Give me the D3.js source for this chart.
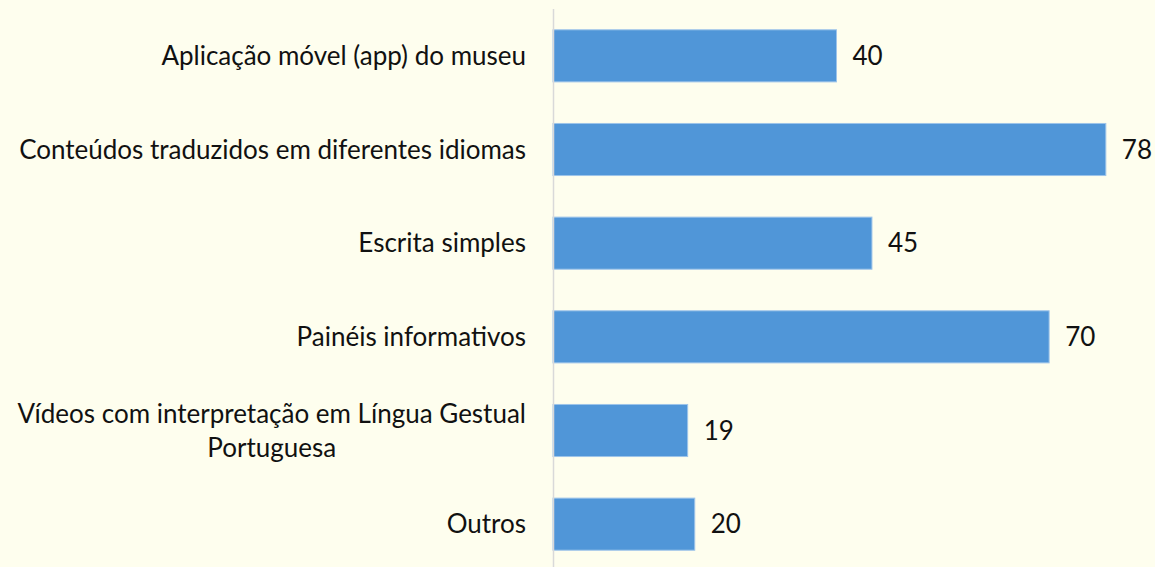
<!DOCTYPE html>
<html>
<head>
    <script src="https://d3js.org/d3.v7.min.js"></script>
    <style>
        body {
            margin: 0;
            background: #fefeee;
            font-family: 'Lato';
        }

        .bar {
            fill: #5096d8;
            stroke: #9ec4ea;
            stroke-width: 1px;
        }

        text {
            fill: #111;
            font-size: 26px;
        }
    </style>
</head>

<body>
    <script>
        const categories = [
            'Aplicação móvel (app) do museu',
            'Conteúdos traduzidos em diferentes idiomas',
            'Escrita simples',
            'Painéis informativos',
            'Vídeos com interpretação em Língua Gestual Portuguesa',
            'Outros'
        ];
        // wrapped lines of each category label
        const labelLines = [
            ['Aplicação móvel (app) do museu'],
            ['Conteúdos traduzidos em diferentes idiomas'],
            ['Escrita simples'],
            ['Painéis informativos'],
            ['Vídeos com interpretação em Língua Gestual', 'Portuguesa'],
            ['Outros']
        ];
        const values = [40, 78, 45, 70, 19, 20];
        const xDomain = [0, 80];

        const width = 1155,
            height = 567,
            axisX = 553;

        const x = d3.scaleLinear()
            .domain(xDomain)
            .range([axisX, 1120]);

        const y = d3.scaleBand()
            .domain(categories)
            .range([9, 571])
            .paddingInner(0.444)
            .paddingOuter(0.222);

        const svg = d3.select('body').append('svg')
            .attr('width', width)
            .attr('height', height);

        svg.selectAll('rect.bar')
            .data(values)
            .join('rect')
            .attr('class', 'bar')
            .attr('x', x(0))
            .attr('y', (d, i) => y(categories[i]))
            .attr('width', d => x(d) - x(0))
            .attr('height', y.bandwidth());

        // axis line
        svg.append('line')
            .attr('x1', axisX + 0.5).attr('x2', axisX + 0.5)
            .attr('y1', 9).attr('y2', height)
            .attr('stroke', '#d9d9d9')
            .attr('stroke-width', 1.5);

        // value labels
        svg.selectAll('text.value')
            .data(values)
            .join('text')
            .attr('class', 'value')
            .attr('x', d => x(d) + 16)
            .attr('y', (d, i) => y(categories[i]) + y.bandwidth() / 2)
            .attr('dy', '0.35em')
            .text(d => d);

        // category labels: right-aligned block, lines centred inside it
        const lineH = 34;
        const labelRight = axisX - 27;
        categories.forEach((c, i) => {
            const lines = labelLines[i];
            const g = svg.append('g');
            const cy = y(c) + y.bandwidth() / 2;
            const t = g.selectAll('text')
                .data(lines)
                .join('text')
                .attr('text-anchor', 'middle')
                .attr('y', (d, j) => cy + (j - (lines.length - 1) / 2) * lineH)
                .attr('dy', '0.35em')
                .text(d => d);
            let w = 0;
            t.each(function () { w = Math.max(w, this.getComputedTextLength()); });
            t.attr('x', labelRight - w / 2);
        });
    </script>
</body>

</html>
